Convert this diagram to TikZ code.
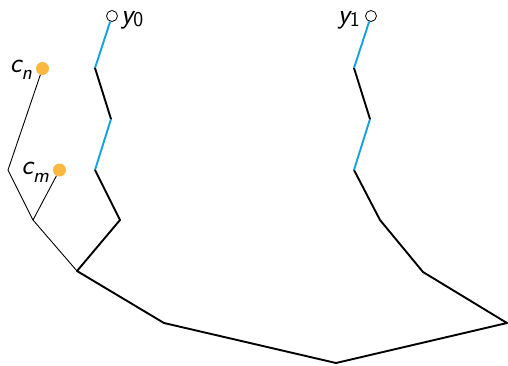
\documentclass[tikz,border=0pt]{standalone}
\usepackage{fontspec}
\usepackage{tikz}
\definecolor{edgeblue}{RGB}{20,160,225}
\definecolor{dotorange}{RGB}{251,184,64}
% #1 letter, #2 subscript, #3 subscript shape, #4 drop
\newcommand{\lbl}[4]{{\fontsize{28}{32}\selectfont\sffamily\slshape#1}\raisebox{-#4}{\fontsize{21}{24}\selectfont\sffamily#3#2}}
\begin{document}
\begin{tikzpicture}[x=1pt,y=-1pt,
  thick line/.style={line width=1.9pt,black,line join=round},
  blue line/.style={line width=1.9pt,edgeblue},
  thin line/.style={line width=0.9pt,black},
  leaf/.style={circle,draw,line width=0.8pt,inner sep=0pt,minimum size=11pt},
  dot/.style={circle,fill=dotorange,inner sep=0pt,minimum size=13pt},
  lab/.style={inner sep=0pt}]
\useasboundingbox (0,0) rectangle (508,365);
% leaves
\node[leaf] (y0) at (112,16) {};
\node[leaf] (y1) at (371,16) {};
\node[lab,anchor=base west] at (121,23) {\lbl{y}{0}{\upshape}{3pt}};
\node[lab,anchor=base east] at (360,23) {\lbl{y}{1}{\upshape}{3pt}};
% chain coordinates
\coordinate (a1) at (95,68);
\coordinate (a2) at (111,119);
\coordinate (a3) at (95,170);
\coordinate (a4) at (120,220);
\coordinate (r) at (77,271);
\coordinate (m1) at (164,323);
\coordinate (m2) at (336,363);
\coordinate (m3) at (507,323);
\coordinate (b4) at (423,272);
\coordinate (b3) at (380,220);
\coordinate (b2) at (354,170);
\coordinate (b1) at (370,119);
\coordinate (b0) at (354,68);
\draw[blue line] (y0) -- (a1);
\draw[thick line] (a1) -- (a2);
\draw[blue line] (a2) -- (a3);
\draw[thick line] (a3) -- (a4) -- (r) -- (m1) -- (m2) -- (m3) -- (b4) -- (b3) -- (b2);
\draw[blue line] (b2) -- (b1);
\draw[thick line] (b1) -- (b0);
\draw[blue line] (b0) -- (y1);
% left tree
\node[dot] (cn) at (42.5,68.5) {};
\node[dot] (cm) at (59.5,170) {};
\node[lab,anchor=base east] at (32,72) {\lbl{c}{n}{\slshape}{7pt}};
\node[lab,anchor=base east] at (49,174) {\lbl{c}{m}{\slshape}{8pt}};
\coordinate (t1) at (8,170);
\coordinate (t2) at (33,220);
\draw[thin line] (cn) -- (t1) -- (t2) -- (r);
\draw[thin line] (cm) -- (t2);
\end{tikzpicture}
\end{document}
